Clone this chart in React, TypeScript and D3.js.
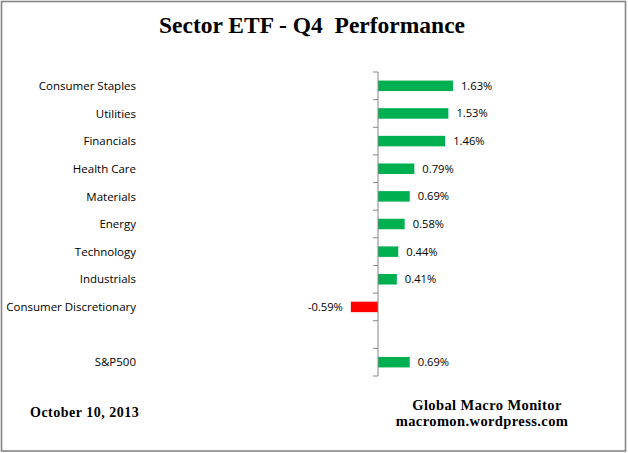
import { useEffect, useRef } from 'react';
import * as d3 from 'd3';

const WIDTH = 628;
const HEIGHT = 453;

// categories from top to bottom, with an empty slot before the index
const categories = [
  'Consumer Staples',
  'Utilities',
  'Financials',
  'Health Care',
  'Materials',
  'Energy',
  'Technology',
  'Industrials',
  'Consumer Discretionary',
  '',
  'S&P500',
];
const values: (number | null)[] = [1.63, 1.53, 1.46, 0.79, 0.69, 0.58, 0.44, 0.41, -0.59, null, 0.69];

const TITLE = 'Sector ETF - Q4  Performance';
const DATE_NOTE = 'October 10, 2013';
const SOURCE_LINES = ['Global Macro Monitor', 'macromon.wordpress.com'];

const AXIS_FONT = '"Open Sans", "Liberation Sans", Arial, sans-serif';
const SERIF = '"Liberation Serif", "Times New Roman", serif';

export default function App() {
  const svgRef = useRef<SVGSVGElement>(null);

  useEffect(() => {
    if (!svgRef.current) return;
    const svg = d3.select(svgRef.current);
    svg.selectAll('*').remove();

    // border
    svg
      .append('rect')
      .attr('x', 1.5)
      .attr('y', 1.5)
      .attr('width', WIDTH - 4)
      .attr('height', HEIGHT - 3.5)
      .attr('fill', '#fff')
      .attr('stroke', '#858585')
      .attr('stroke-width', 1.6);

    // title
    svg
      .append('text')
      .attr('x', 312)
      .attr('y', 32.5)
      .attr('text-anchor', 'middle')
      .style('font-family', SERIF)
      .style('font-weight', 'bold')
      .style('font-size', '23.5px')
      .style('white-space', 'pre')
      .attr('xml:space', 'preserve')
      .text(TITLE);

    const slots = categories.map((c, i) => `${i}|${c}`);
    const yScale = d3.scaleBand<string>().domain(slots).range([72, 376]).paddingInner(0.62).paddingOuter(0.31);
    const xScale = d3.scaleLinear().domain([-1, 2]).range([332, 470]);
    const x0 = xScale(0);

    const g = svg.append('g');

    // bars
    const rows = slots
      .map((s, i) => ({ slot: s, name: categories[i], value: values[i] }))
      .filter(d => d.value !== null) as { slot: string; name: string; value: number }[];

    g.selectAll('rect.bar')
      .data(rows)
      .join('rect')
      .attr('class', 'bar')
      .attr('x', d => Math.min(xScale(d.value), x0))
      .attr('y', d => yScale(d.slot)!)
      .attr('width', d => Math.abs(xScale(d.value) - x0))
      .attr('height', yScale.bandwidth())
      .attr('fill', d => (d.value < 0 ? '#ff0000' : '#00b050'));

    // value labels
    g.selectAll('text.val')
      .data(rows)
      .join('text')
      .attr('class', 'val')
      .attr('x', d => (d.value < 0 ? xScale(d.value) - 8 : xScale(d.value) + 8))
      .attr('y', d => yScale(d.slot)! + yScale.bandwidth() / 2)
      .attr('dy', '0.36em')
      .attr('text-anchor', d => (d.value < 0 ? 'end' : 'start'))
      .style('font-family', AXIS_FONT)
      .style('font-size', '11.2px')
      .style('fill', '#000')
      .text(d => `${d.value.toFixed(2)}%`);

    // category axis
    const step = yScale.step();
    const top = yScale.range()[0];
    const bottom = yScale.range()[1];
    g.append('line')
      .attr('x1', x0)
      .attr('x2', x0)
      .attr('y1', top)
      .attr('y2', bottom)
      .attr('stroke', '#868686')
      .attr('stroke-width', 1);

    const tickYs = d3.range(slots.length + 1).map(i => top + i * step);
    g.selectAll('line.tick')
      .data(tickYs)
      .join('line')
      .attr('class', 'tick')
      .attr('x1', x0 - 5)
      .attr('x2', x0)
      .attr('y1', d => d)
      .attr('y2', d => d)
      .attr('stroke', '#868686')
      .attr('stroke-width', 1);

    g.selectAll('text.cat')
      .data(slots)
      .join('text')
      .attr('class', 'cat')
      .attr('x', 136)
      .attr('y', d => yScale(d)! + yScale.bandwidth() / 2)
      .attr('dy', '0.36em')
      .attr('text-anchor', 'end')
      .style('font-family', AXIS_FONT)
      .style('font-size', '11.5px')
      .style('fill', '#000')
      .text(d => d.split('|')[1]);

    // footer notes
    svg
      .append('text')
      .attr('x', 30)
      .attr('y', 417)
      .style('font-family', SERIF)
      .style('font-weight', 'bold')
      .style('font-size', '14px')
      .style('letter-spacing', '0.5px')
      .text(DATE_NOTE);

    svg
      .selectAll('text.src')
      .data(SOURCE_LINES)
      .join('text')
      .attr('class', 'src')
      .attr('x', (_, i) => (i === 0 ? 487 : 482))
      .attr('y', (_, i) => 410 + i * 16)
      .attr('text-anchor', 'middle')
      .style('font-family', SERIF)
      .style('font-weight', 'bold')
      .style('font-size', '14.5px')
      .style('letter-spacing', '0.4px')
      .text(d => d);
  }, []);

  return (
    <svg
      ref={svgRef}
      width={WIDTH}
      height={HEIGHT}
      style={{ position: 'absolute', left: 0, top: 0, background: '#fff' }}
    />
  );
}
